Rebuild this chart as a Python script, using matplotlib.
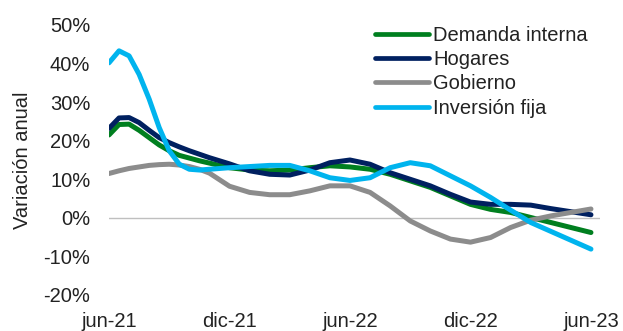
import matplotlib
matplotlib.use("Agg")
import matplotlib.pyplot as plt
from matplotlib.ticker import FuncFormatter

# Readings (months since jun-21): half-monthly in the first months, monthly after
months = [0, 0.5, 1, 1.5, 2, 2.5, 3, 3.5, 4, 4.5, 5, 6, 7, 8, 9, 10, 11, 12,
          13, 14, 15, 16, 17, 18, 19, 20, 21, 22, 23, 24]
demanda_interna = [21.5, 24.2, 24.3, 22.7, 20.8, 18.9, 17.4, 16.2, 15.5, 14.8, 14.2, 13.0,
                   12.4, 12.2, 12.4, 13.0, 13.5, 13.2,
                   12.6, 11.3, 9.6, 7.9, 5.7, 3.5, 2.2, 1.4, 0.1, -1.2, -2.5, -3.8]
hogares = [23.2, 25.9, 26.0, 24.7, 22.7, 20.8, 19.5, 18.4, 17.4, 16.5, 15.6, 14.0,
           12.2, 11.3, 11.1, 12.4, 14.3, 15.0,
           13.9, 11.7, 10.0, 8.3, 6.1, 4.1, 3.5, 3.5, 3.3, 2.4, 1.6, 0.8]
gobierno = [11.5, 12.2, 12.8, 13.2, 13.6, 13.8, 13.9, 13.7, 13.3, 12.6, 11.6, 8.2,
            6.6, 6.0, 6.0, 7.0, 8.3, 8.3,
            6.6, 3.1, -0.8, -3.4, -5.5, -6.3, -5.1, -2.5, -0.6, 0.5, 1.4, 2.3]
inversion_fija = [40.2, 43.3, 42.0, 37.2, 30.8, 23.4, 17.4, 13.9, 12.6, 12.4, 12.6, 13.0,
                  13.3, 13.6, 13.6, 12.2, 10.4, 9.7,
                  10.4, 13.0, 14.3, 13.5, 10.9, 8.3, 5.3, 2.0, -1.2, -3.5, -5.8, -8.1]

series_names = ["Demanda interna", "Hogares", "Gobierno", "Inversión fija"]
series_colors = ["#007F1F", "#002060", "#8C8C8C", "#00B4EE"]

tick_positions = [0, 6, 12, 18, 24]
tick_labels = ["jun-21", "dic-21", "jun-22", "dic-22", "jun-23"]
y_ticks = [-20, -10, 0, 10, 20, 30, 40, 50]

plt.rcParams['font.family'] = ['Liberation Sans', 'DejaVu Sans']

fig = plt.figure(figsize=(6.23, 3.31), dpi=100)
ax = fig.add_axes([109/623, 1-295/331, (600-109)/623, (295-25)/331])

ax.axhline(0, color="#BFBFBF", lw=1.0, zorder=1)

for vals, name, col in zip([demanda_interna, hogares, gobierno, inversion_fija],
                           series_names, series_colors):
    ax.plot(months, vals, color=col, lw=3.6, label=name, solid_capstyle='round',
            solid_joinstyle='round', zorder=3)

ax.set_xlim(0, 24.45)
ax.set_ylim(-20, 50)
ax.set_yticks(y_ticks)
ax.yaxis.set_major_formatter(FuncFormatter(lambda v, p: f"{int(v)}%"))
ax.set_xticks(tick_positions)
ax.set_xticklabels(tick_labels)
for s in ax.spines.values():
    s.set_visible(False)
ax.tick_params(axis='both', length=0, labelsize=14.5, colors="#222222")
ax.tick_params(axis='y', pad=13.5)
ax.tick_params(axis='x', pad=12)
ax.set_ylabel("Variación anual", fontsize=14.5, color="#222222", labelpad=8)

leg = fig.legend(loc='upper left', bbox_to_anchor=(375/623, 1-26/331), frameon=False,
                 fontsize=14.5, handlelength=2.7, handletextpad=0.2, labelspacing=0.26,
                 borderaxespad=0, borderpad=0)
for line in leg.get_lines():
    line.set_linewidth(3.4)
for t in leg.get_texts():
    t.set_color("#222222")

fig.savefig("out.png", dpi=100)
